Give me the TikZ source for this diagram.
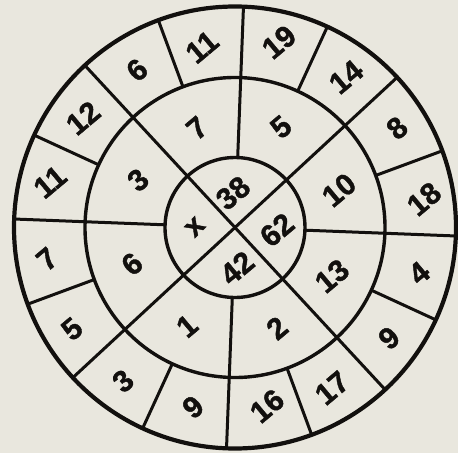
\documentclass[tikz,border=0pt]{standalone}
\usepackage{fontspec}
\setmainfont{Liberation Sans}
\newfontfamily\heavyfont{Liberation Sans Bold}[FakeBold=1.3]
\definecolor{paper}{RGB}{233,231,222}
\definecolor{ink}{RGB}{18,16,14}
\begin{document}
\begin{tikzpicture}[x=1pt,y=1pt,
  rim/.style={line width=4.2pt, draw=ink},
  ring/.style={line width=3.4pt, draw=ink},
  div/.style={line width=3pt, draw=ink},
  num/.style={font=\heavyfont\fontsize{30}{30}\selectfont, rotate=40, text=ink, inner sep=0pt}]
\fill[paper] (-235,-225.5) rectangle (223,227.5);
\useasboundingbox (-235,-225.5) rectangle (223,227.5);
\def\rot{-2.2}
% full diagonals
\foreach \a in {45,135} \draw[div] ({\a+\rot}:221) -- ({\a+180+\rot}:221);
% vertical and horizontal spokes (middle + outer ring)
\foreach \a in {0,90,180,270} \draw[div] ({\a+\rot}:70) -- ({\a+\rot}:221);
% outer ring dividers
\foreach \a in {22.5,67.5,...,337.5} \draw[div] ({\a+\rot}:150) -- ({\a+\rot}:221);
% circles
\draw[ring] (0,0) circle[radius=70];
\draw[ring] (0,0) circle[radius=150];
\draw[rim] (0,0) circle[radius=221];
% outer ring numbers
\node[num] (o1)  at (-98,157.5) {6};
\node[num] (o2)  at (-33,180.5) {11};
\node[num] (o3)  at (44,185.5) {19};
\node[num] (o4)  at (111,150.5) {14};
\node[num] (o5)  at (162,99.5) {8};
\node[num] (o6)  at (189,28.5) {18};
\node[num] (o7)  at (184,-45.5) {4};
\node[num] (o8)  at (154,-110.5) {9};
\node[num] (o9)  at (97,-160.5) {17};
\node[num] (o10) at (32,-178.5) {16};
\node[num] (o11) at (-42,-179.5) {9};
\node[num] (o12) at (-112,-153.5) {3};
\node[num] (o13) at (-163,-101.5) {5};
\node[num] (o14) at (-188,-31.5) {7};
\node[num] (o15) at (-185,45.5) {11};
\node[num] (o16) at (-152,109.5) {12};
% middle ring numbers
\node[num] (m1) at (-38,99.5) {7};
\node[num] (m2) at (46,100.5) {5};
\node[num] (m3) at (104,37.5) {10};
\node[num] (m4) at (97,-48.5) {13};
\node[num] (m5) at (42,-100.5) {2};
\node[num] (m6) at (-48,-98.5) {1};
\node[num] (m7) at (-103,-36.5) {6};
\node[num] (m8) at (-97,47.5) {3};
% inner numbers
\node[num, rotate=5] (i1) at (-40,0.5) {x};
\node[num] (i2) at (-2,34.5) {38};
\node[num] (i3) at (42,-2.5) {62};
\node[num] (i4) at (2,-40.5) {42};
\end{tikzpicture}
\end{document}
